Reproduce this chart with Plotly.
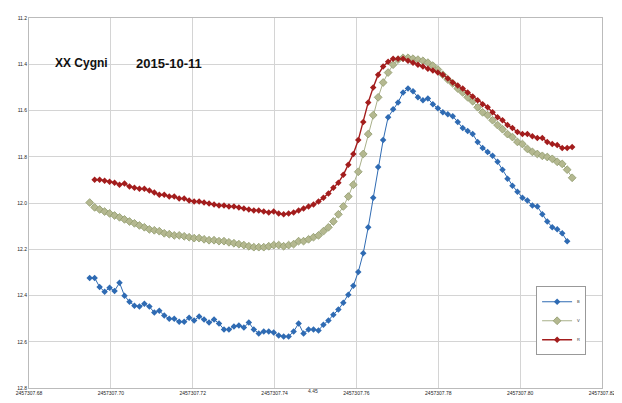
import plotly.graph_objects as go

# Julian date fractions (add 2457307)
jd_base = 2457307
t_frac = [0.69483, 0.69604, 0.69726, 0.69847, 0.69969, 0.70090, 0.70212, 0.70333, 0.70455, 0.70576,
          0.70698, 0.70819, 0.70941, 0.71062, 0.71184, 0.71305, 0.71427, 0.71549, 0.71670, 0.71792,
          0.71913, 0.72035, 0.72156, 0.72278, 0.72399, 0.72521, 0.72642, 0.72764, 0.72885, 0.73007,
          0.73128, 0.73250, 0.73371, 0.73493, 0.73614, 0.73736, 0.73858, 0.73979, 0.74101, 0.74222,
          0.74344, 0.74465, 0.74587, 0.74708, 0.74830, 0.74951, 0.75073, 0.75194, 0.75316, 0.75437,
          0.75559, 0.75680, 0.75802, 0.75924, 0.76045, 0.76167, 0.76288, 0.76410, 0.76531, 0.76653,
          0.76774, 0.76896, 0.77017, 0.77139, 0.77260, 0.77382, 0.77503, 0.77625, 0.77746, 0.77868,
          0.77990, 0.78111, 0.78233, 0.78354, 0.78476, 0.78597, 0.78719, 0.78840, 0.78962, 0.79083,
          0.79205, 0.79326, 0.79448, 0.79569, 0.79691, 0.79812, 0.79934, 0.80056, 0.80177, 0.80299,
          0.80420, 0.80542, 0.80663, 0.80785, 0.80906, 0.81028, 0.81149, 0.81271]

mag_b = [12.324, 12.324, 12.363, 12.384, 12.367, 12.380, 12.345, 12.401, 12.427, 12.444,
         12.448, 12.436, 12.448, 12.474, 12.466, 12.487, 12.500, 12.500, 12.513, 12.513,
         12.496, 12.508, 12.491, 12.504, 12.517, 12.504, 12.521, 12.547, 12.547, 12.534,
         12.530, 12.538, 12.517, 12.547, 12.564, 12.556, 12.556, 12.560, 12.573, 12.577,
         12.577, 12.556, 12.521, 12.564, 12.547, 12.547, 12.551, 12.526, 12.508, 12.483,
         12.461, 12.431, 12.397, 12.358, 12.298, 12.217, 12.105, 11.977, 11.844, 11.728,
         11.629, 11.595, 11.565, 11.522, 11.505, 11.517, 11.543, 11.556, 11.548, 11.573,
         11.590, 11.608, 11.616, 11.625, 11.650, 11.676, 11.689, 11.702, 11.736, 11.762,
         11.779, 11.796, 11.822, 11.856, 11.895, 11.925, 11.951, 11.977, 11.989, 12.011,
         12.015, 12.049, 12.080, 12.105, 12.114, 12.131, 12.165]

mag_v = [11.998, 12.019, 12.028, 12.037, 12.045, 12.054, 12.062, 12.071, 12.080, 12.088,
         12.097, 12.105, 12.114, 12.118, 12.122, 12.131, 12.135, 12.140, 12.140, 12.144,
         12.148, 12.152, 12.152, 12.157, 12.161, 12.161, 12.165, 12.165, 12.170, 12.174,
         12.178, 12.182, 12.187, 12.191, 12.191, 12.191, 12.187, 12.182, 12.182, 12.187,
         12.182, 12.178, 12.165, 12.165, 12.157, 12.148, 12.140, 12.122, 12.105, 12.080,
         12.049, 12.015, 11.972, 11.921, 11.865, 11.788, 11.702, 11.620, 11.543, 11.479,
         11.436, 11.402, 11.380, 11.372, 11.372, 11.376, 11.380, 11.385, 11.393, 11.406,
         11.423, 11.445, 11.466, 11.483, 11.505, 11.522, 11.543, 11.560, 11.586, 11.608,
         11.620, 11.642, 11.663, 11.681, 11.702, 11.715, 11.736, 11.745, 11.766, 11.779,
         11.788, 11.796, 11.801, 11.809, 11.822, 11.831, 11.856, 11.891]

mag_r = [11.899, 11.899, 11.904, 11.908, 11.912, 11.921, 11.916, 11.929, 11.934, 11.938,
         11.938, 11.946, 11.955, 11.964, 11.964, 11.972, 11.972, 11.981, 11.981, 11.989,
         11.994, 11.994, 11.998, 12.002, 12.007, 12.011, 12.011, 12.015, 12.015, 12.019,
         12.024, 12.028, 12.032, 12.032, 12.037, 12.041, 12.037, 12.045, 12.049, 12.045,
         12.041, 12.032, 12.024, 12.015, 12.007, 11.994, 11.977, 11.959, 11.934, 11.912,
         11.878, 11.835, 11.788, 11.728, 11.650, 11.565, 11.500, 11.445, 11.410, 11.389,
         11.376, 11.376, 11.376, 11.385, 11.393, 11.402, 11.410, 11.419, 11.427, 11.436,
         11.445, 11.462, 11.479, 11.492, 11.505, 11.522, 11.539, 11.556, 11.573, 11.586,
         11.608, 11.629, 11.642, 11.663, 11.676, 11.693, 11.702, 11.702, 11.711, 11.719,
         11.719, 11.736, 11.745, 11.749, 11.762, 11.762, 11.758]

series_names = ["B", "V", "R"]
x_ticks = [0.68, 0.70, 0.72, 0.74, 0.76, 0.78, 0.80, 0.82]
x_ticktext = ["2457307.68", "2457307.70", "2457307.72", "2457307.74",
              "2457307.76", "2457307.78", "2457307.80", "2457307.82"]
y_ticks = [11.2, 11.4, 11.6, 11.8, 12.0, 12.2, 12.4, 12.6, 12.8]

jd = [jd_base + t for t in t_frac]
jd_b = jd[:len(mag_b)]
jd_v = jd[:len(mag_v)]
jd_r = jd[len(jd) - len(mag_r):]

fig = go.Figure()
fig.add_trace(go.Scatter(x=jd_b, y=mag_b, name=series_names[0], mode="lines+markers",
                         line=dict(color="#2f6bb3", width=1),
                         marker=dict(symbol="diamond", size=5, color="#2f6bb3")))
fig.add_trace(go.Scatter(x=jd_v, y=mag_v, name=series_names[1], mode="lines+markers",
                         line=dict(color="#a9b08a", width=1),
                         marker=dict(symbol="diamond", size=6, color="#b4b890",
                                     line=dict(color="#8f9a6c", width=0.8))))
fig.add_trace(go.Scatter(x=jd_r, y=mag_r, name=series_names[2], mode="lines+markers",
                         line=dict(color="#a31d1d", width=1.4),
                         marker=dict(symbol="diamond", size=5, color="#a31d1d")))

fig.add_annotation(x=0.042, y=0.878, xref="paper", yref="paper", text="<b>XX Cygni</b>",
                   showarrow=False, xanchor="left", yanchor="middle",
                   font=dict(family="Liberation Sans Narrow, Liberation Sans", size=12, color="#111111"))
fig.add_annotation(x=0.184, y=0.878, xref="paper", yref="paper", text="<b>2015-10-11</b>",
                   showarrow=False, xanchor="left", yanchor="middle",
                   font=dict(family="Liberation Sans Narrow, Liberation Sans", size=13, color="#111111"))
fig.add_annotation(x=jd_base + 0.7494, y=0, xref="x", yref="paper", yshift=-8,
                   text="4.45", showarrow=False,
                   font=dict(family="Liberation Sans", size=5, color="#333333"))

# page body has an 8px margin: size the figure so the plot area lands where the reference has it
fig.update_layout(
    width=614, height=395,
    margin=dict(l=21, r=17, t=7, b=15),
    paper_bgcolor="white", plot_bgcolor="white",
    showlegend=True,
    legend=dict(x=0.885, y=0.275, xanchor="left", yanchor="top",
                bgcolor="white", bordercolor="#999999", borderwidth=1,
                font=dict(size=4, color="#333333"), itemwidth=30,
                tracegroupgap=0),
    font=dict(family="Liberation Sans"),
)
fig.update_xaxes(range=[jd_base + 0.68, jd_base + 0.82],
                 tickvals=[jd_base + v for v in x_ticks], ticktext=x_ticktext,
                 showgrid=True, gridcolor="#d4d4d4", gridwidth=1,
                 showline=True, linecolor="#bbbbbb", mirror=True,
                 tickfont=dict(size=5, color="#222222"), ticks="", zeroline=False)
fig.update_yaxes(range=[12.8, 11.2],
                 tickvals=y_ticks, ticktext=[f"{v:.1f}" for v in y_ticks],
                 showgrid=True, gridcolor="#d4d4d4", gridwidth=1,
                 showline=True, linecolor="#bbbbbb", mirror=True,
                 tickfont=dict(size=5, color="#222222"), ticks="", zeroline=False)

fig.write_html("out.html")
